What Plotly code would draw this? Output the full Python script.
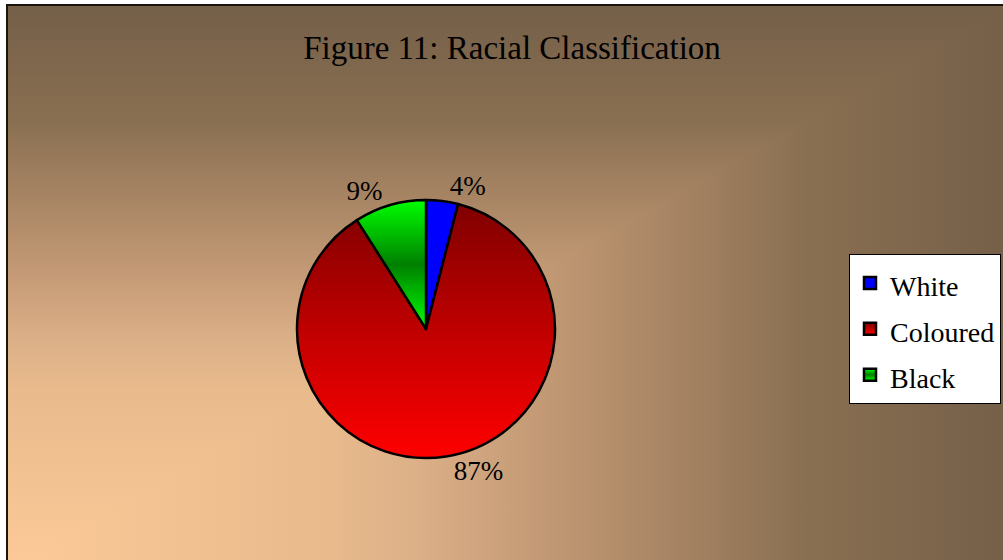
import base64
import json
import plotly.graph_objects as go

# ---- data ----
labels = ["White", "Coloured", "Black"]
values = [4, 87, 9]
title_text = "Figure 11: Racial Classification"

# ---- styles ----
slice_colors = ["#0000ff", "#c00000", "#00a000"]
slice_gradients = [None,
                   [[0, "#800000"], [1, "#ff0000"]],
                   [[0, "#00ff00"], [0.5, "#008000"], [1, "#00ff00"]]]
bg_stops = [[0, "#fdca98"], [0.32, "#e8ba8c"], [0.405, "#dcb088"],
            [0.55, "#bf9672"], [0.79, "#8a7052"], [1, "#745f48"]]
FONT = "Liberation Serif, Times New Roman, serif"
W, H = 1003, 560

# background "from corner" gradient as an SVG image
def stops_svg(stops):
    return "".join(f'<stop offset="{o}" stop-color="{c}"/>' for o, c in stops)

bg_svg = (
    '<svg xmlns="http://www.w3.org/2000/svg" width="1000" height="1000" '
    'viewBox="0 0 1000 1000" preserveAspectRatio="none">'
    '<defs>'
    f'<linearGradient id="gh" gradientUnits="userSpaceOnUse" x1="0" y1="0" x2="1000" y2="0">{stops_svg(bg_stops)}</linearGradient>'
    f'<linearGradient id="gv" gradientUnits="userSpaceOnUse" x1="0" y1="1000" x2="0" y2="0">{stops_svg(bg_stops)}</linearGradient>'
    '</defs>'
    '<rect x="0" y="0" width="1000" height="1000" fill="url(#gv)"/>'
    '<polygon points="0,1000 1000,1000 1000,0" fill="url(#gh)"/>'
    '</svg>'
)
bg_uri = "data:image/svg+xml;base64," + base64.b64encode(bg_svg.encode()).decode()

legend_names = [f"<span style='font-size:28px'>{l}</span>" for l in labels]

cx, cy, r = 426, 329, 129

fig = go.Figure(go.Pie(
    labels=legend_names,
    values=values,
    sort=False,
    direction="clockwise",
    rotation=0,
    marker=dict(colors=slice_colors, line=dict(color="black", width=2.5)),
    texttemplate="%{percent:.0%}",
    textposition="outside",
    textfont=dict(family=FONT, size=27, color="black"),
    hoverinfo="skip",
    domain=dict(x=[(cx - r) / W, (cx + r) / W], y=[1 - (cy + r) / H, 1 - (cy - r) / H]),
))

fig.update_layout(
    width=W, height=H,
    margin=dict(l=0, r=0, t=0, b=0, autoexpand=False),
    paper_bgcolor="white",
    plot_bgcolor="rgba(0,0,0,0)",
    title=dict(text=title_text, x=512 / W, xanchor="center", y=1 - 47 / H, yanchor="middle",
               yref="container", font=dict(family=FONT, size=33, color="black")),
    legend=dict(x=849 / W, xanchor="left", y=1 - 254 / H, yanchor="top",
                bgcolor="white", bordercolor="black", borderwidth=1,
                font=dict(family=FONT, size=33, color="black")),
    images=[dict(source=bg_uri, xref="paper", yref="paper", x=7 / W, y=1 - 5 / H,
                 sizex=(1014 - 7) / W, sizey=(570 - 5) / H, xanchor="left", yanchor="top",
                 sizing="stretch", layer="below")],
    shapes=[dict(type="rect", xref="paper", yref="paper", x0=7 / W, x1=1.03,
                 y0=-0.03, y1=1 - 5 / H, line=dict(color="#1b140d", width=2),
                 fillcolor="rgba(0,0,0,0)", layer="above")],
)

post = """
(function(){
  document.body.style.margin = '0';
  document.body.style.padding = '0';
  var gd = document.getElementById('{plot_id}');
  var grads = GRADS;
  var ns = 'http://www.w3.org/2000/svg';
  function apply(){
    var svg = gd.querySelector('.main-svg');
    if(!svg) return;
    var defs = svg.querySelector('defs');
    if(!defs){ defs = document.createElementNS(ns,'defs'); svg.insertBefore(defs, svg.firstChild); }
    grads.forEach(function(g, i){
      if(!g) return;
      var id = 'sliceGrad' + i;
      if(!document.getElementById(id)){
        var lg = document.createElementNS(ns,'linearGradient');
        lg.setAttribute('id', id);
        lg.setAttribute('x1','0'); lg.setAttribute('y1','0');
        lg.setAttribute('x2','0'); lg.setAttribute('y2','1');
        g.forEach(function(s){
          var st = document.createElementNS(ns,'stop');
          st.setAttribute('offset', s[0]); st.setAttribute('stop-color', s[1]);
          lg.appendChild(st);
        });
        defs.appendChild(lg);
      }
    });
    var slices = gd.querySelectorAll('g.slice path.surface');
    slices.forEach(function(p, i){ if(grads[i]) p.style.fill = 'url(#sliceGrad' + i + ')'; });
    var leg = gd.querySelectorAll('.legend .traces');
    leg.forEach(function(t, i){
      var p = t.querySelector('path.legendpie') || t.querySelector('.legendpoints path');
      if(p && grads[i]) p.style.fill = 'url(#sliceGrad' + i + ')';
    });
  }
  apply();
  if(gd.on) gd.on('plotly_afterplot', apply);
})();
""".replace("GRADS", json.dumps(slice_gradients))

fig.write_html("out.html", post_script=post, config={"displayModeBar": False})
